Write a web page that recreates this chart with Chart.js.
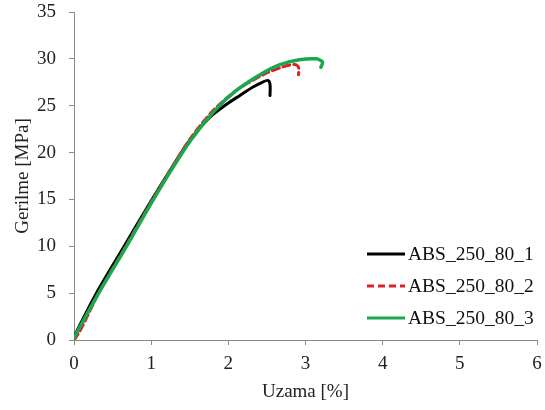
<!DOCTYPE html>
<html>
<head>
<meta charset="utf-8">
<script src="https://cdn.jsdelivr.net/npm/chart.js@4"></script>
<style>
html,body{margin:0;padding:0;background:#fff;}
#wrap{width:545px;height:410px;}
</style>
</head>
<body>
<div id="wrap"><canvas id="c" width="545" height="410"></canvas></div>
<script>
// ---- data ----
const seriesNames = ['ABS_250_80_1', 'ABS_250_80_2', 'ABS_250_80_3'];

const x1 = [0, 0.04, 0.29, 0.65, 0.96, 1.23, 1.51, 1.75, 1.95, 2.15, 2.32, 2.44, 2.51, 2.54, 2.54];
const y1 = [0.3, 1.0, 5.0, 10.0, 14.3, 17.9, 21.4, 23.7, 25.0, 26.1, 27.0, 27.5, 27.7, 27.3, 26.1];

const x2 = [0, 0.08, 0.32, 0.67, 0.97, 1.23, 1.5, 1.8, 2.1, 2.45, 2.71, 2.86, 2.91, 2.91];
const y2 = [0.0, 1.0, 5.0, 10.0, 14.3, 17.9, 21.4, 24.45, 26.6, 28.3, 29.15, 29.4, 29.1, 28.3];

const x3 = [0, 0.05, 0.32, 0.68, 0.98, 1.24, 1.52, 1.82, 2.1, 2.41, 2.66, 2.92, 3.14, 3.22, 3.2];
const y3 = [0.2, 1.0, 5.0, 10.0, 14.3, 17.86, 21.4, 24.45, 26.6, 28.3, 29.35, 29.9, 30.0, 29.65, 29.1];

const xTicks = [0, 1, 2, 3, 4, 5, 6];
const yTicks = [0, 5, 10, 15, 20, 25, 30, 35];
const xTitle = 'Uzama [%]';
const yTitle = 'Gerilme [MPa]';

const pts = (xs, ys) => xs.map((v, i) => ({x: v, y: ys[i]}));

const FONT = "'Liberation Serif', 'Times New Roman', serif";
const AXIS = '#8a8a8a';

const legendPlugin = {
  id: 'customLegend',
  afterDraw(chart) {
    const ctx = chart.ctx;
    const ds = chart.data.datasets;
    const rowY = [254, 286, 318];
    ctx.save();
    ctx.font = '19.5px ' + FONT;
    ctx.textBaseline = 'middle';
    ctx.fillStyle = '#111';
    ds.forEach((d, i) => {
      const y = rowY[i];
      ctx.strokeStyle = d.borderColor;
      ctx.lineWidth = 3;
      ctx.setLineDash(d.borderDash || []);
      ctx.beginPath();
      ctx.moveTo(367, y);
      ctx.lineTo(405, y);
      ctx.stroke();
      ctx.setLineDash([]);
      ctx.fillText(d.label, 408, y + 1);
    });
    ctx.restore();
  }
};

new Chart(document.getElementById('c'), {
  type: 'scatter',
  data: {
    datasets: [
      {label: seriesNames[0], data: pts(x1, y1), borderColor: '#000000', borderWidth: 3, order: 2},
      {label: seriesNames[1], data: pts(x2, y2), borderColor: '#d8232a', borderWidth: 3, borderDash: [7, 4], order: 1},
      {label: seriesNames[2], data: pts(x3, y3), borderColor: '#1aa84f', borderWidth: 3.5, order: 0}
    ].map(d => Object.assign(d, {showLine: true, pointRadius: 0, fill: false, tension: 0.3, borderCapStyle: 'round', borderJoinStyle: 'round'}))
  },
  options: {
    responsive: false,
    animation: false,
    devicePixelRatio: 1,
    layout: {padding: {top: 12, right: 8, left: 0, bottom: 0}},
    plugins: {legend: {display: false}, tooltip: {enabled: false}},
    scales: {
      x: {
        type: 'linear', min: 0, max: 6,
        afterBuildTicks(s) { s.ticks = xTicks.map(v => ({value: v})); },
        afterFit(s) { s.height = 70; s.paddingLeft = 0; s.paddingRight = 0; },
        grid: {display: true, drawOnChartArea: false, drawTicks: true, tickLength: 5, color: AXIS},
        border: {display: true, color: AXIS, width: 1},
        ticks: {font: {family: FONT, size: 19}, color: '#222', padding: 8, maxRotation: 0},
        title: {display: true, text: xTitle, font: {family: FONT, size: 19}, color: '#222', padding: {top: 0, bottom: 7}}
      },
      y: {
        type: 'linear', min: 0, max: 35,
        afterBuildTicks(s) { s.ticks = yTicks.map(v => ({value: v})); },
        afterFit(s) { s.width = 74; s.paddingTop = 0; s.paddingBottom = 0; },
        grid: {display: true, drawOnChartArea: false, drawTicks: true, tickLength: 5, color: AXIS},
        border: {display: true, color: AXIS, width: 1},
        ticks: {font: {family: FONT, size: 19}, color: '#222', padding: 13},
        title: {display: true, text: yTitle, font: {family: FONT, size: 19}, color: '#222', padding: {top: 12, bottom: 0}}
      }
    }
  },
  plugins: [legendPlugin]
});
</script>
</body>
</html>
